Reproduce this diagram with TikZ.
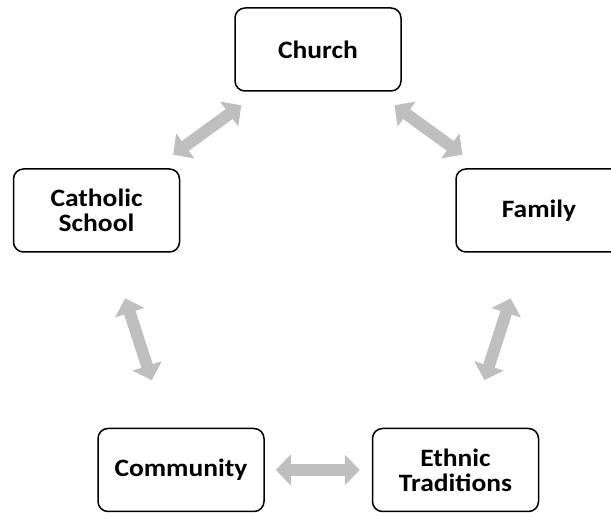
\documentclass[tikz,border=0pt]{standalone}
\usepackage{fontspec}
\setmainfont{Carlito}[FakeStretch=1.1]
\usetikzlibrary{arrows.meta}

\tikzset{
  box/.style={draw, line width=1.5pt, rounded corners=10pt,
    minimum width=166pt, minimum height=83pt, align=center,
    font=\fontsize{25}{25}\selectfont\bfseries},
  link/.style={draw=gray!50, line width=12pt,
    {Triangle[width=30pt,length=15pt]}-{Triangle[width=30pt,length=15pt]}},
}

\begin{document}
\begin{tikzpicture}[x=1pt, y=1pt]
  \useasboundingbox (0,0) rectangle (611,513);

  \node[box] (church)    at (318,463.5) {Church};
  \node[box] (school)    at (96.5,302.5) {Catholic\\School};
  \node[box] (family)    at (539,302.5) {Family};
  \node[box] (community) at (181,43) {Community};
  \node[box] (ethnic)    at (455.5,43) {Ethnic\\Traditions};

  \draw[link, shorten <=23pt, shorten >=23pt] (school) to (church);
  \draw[link, shorten <=23pt, shorten >=23pt] (church) to (family);
  \draw[link, shorten <=48pt, shorten >=50pt] (school) to (community);
  \draw[link, shorten <=48pt, shorten >=50pt] (family) to (ethnic);
  \draw[link, shorten <=11pt, shorten >=12pt] (community) to (ethnic);

\end{tikzpicture}
\end{document}
